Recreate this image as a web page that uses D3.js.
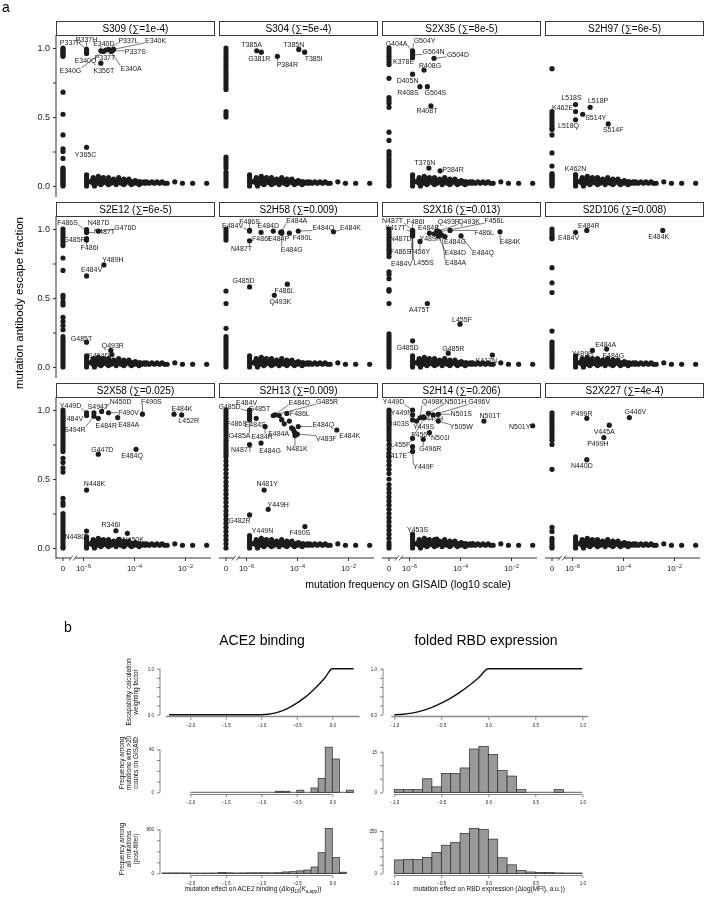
<!DOCTYPE html>
<html>
<head>
<meta charset="utf-8">
<script src="https://cdn.jsdelivr.net/npm/d3@7"></script>
<style>
  body { margin: 0; background: #fff; }
  svg { display: block; font-family: "Liberation Sans", Arial, Helvetica, sans-serif; will-change: transform; }
</style>
</head>
<body>
<svg id="fig" width="704" height="900"></svg>
<script>
// ---------- panel a data ----------
const antibodies = ['S309', 'S304', 'S2X35', 'S2H97', 'S2E12', 'S2H58', 'S2X16', 'S2D106', 'S2X58', 'S2H13', 'S2H14', 'S2X227'];
const sums = ['1e-4', '5e-4', '8e-5', '6e-5', '6e-5', '0.009', '0.013', '0.008', '0.025', '0.009', '0.206', '4e-4'];

// escape fractions of mutations never seen on GISAID (plotted at "0")
const zeroEscape = [
  [1.0,0.99,0.98,0.97,0.96,0.95,0.94,0.68,0.52,0.37,0.27,0.25,0.2,0.13,0.12,0.11,0.1,0.09,0.08,0.07,0.06,0.05,0.04,0.03,0.02,0.01,0.0],
  [1.0,0.98,0.96,0.94,0.92,0.9,0.88,0.86,0.84,0.82,0.8,0.78,0.76,0.74,0.72,0.7,0.54,0.52,0.5,0.21,0.19,0.17,0.15,0.13,0.1,0.08,0.06,0.04,0.02,0.0],
  [1.0,0.98,0.96,0.94,0.92,0.9,0.88,0.78,0.64,0.62,0.6,0.57,0.39,0.33,0.25,0.23,0.21,0.19,0.17,0.15,0.13,0.11,0.09,0.07,0.05,0.03,0.01,0.0],
  [0.85,0.54,0.52,0.5,0.48,0.46,0.44,0.42,0.41,0.37,0.24,0.145,0.09,0.08,0.07,0.06,0.05,0.04,0.03,0.02,0.01,0.0],
  [1.0,0.98,0.96,0.94,0.92,0.9,0.88,0.79,0.7,0.52,0.5,0.47,0.45,0.36,0.33,0.3,0.27,0.22,0.2,0.18,0.16,0.14,0.12,0.1,0.08,0.06,0.04,0.02,0.0],
  [1.0,0.98,0.96,0.94,0.92,0.55,0.46,0.28,0.22,0.2,0.18,0.16,0.14,0.12,0.1,0.08,0.06,0.04,0.02,0.0],
  [1.0,0.98,0.96,0.94,0.92,0.9,0.88,0.86,0.84,0.82,0.8,0.69,0.67,0.64,0.56,0.55,0.46,0.24,0.22,0.2,0.18,0.16,0.14,0.12,0.1,0.08,0.06,0.04,0.02,0.0],
  [1.0,0.98,0.96,0.94,0.93,0.72,0.61,0.54,0.26,0.18,0.16,0.14,0.12,0.1,0.08,0.06,0.04,0.02,0.0],
  [1.0,0.98,0.96,0.94,0.92,0.9,0.88,0.86,0.84,0.82,0.8,0.78,0.76,0.74,0.72,0.7,0.65,0.62,0.58,0.55,0.36,0.33,0.31,0.25,0.23,0.21,0.19,0.17,0.15,0.13,0.11,0.09,0.07,0.05,0.03,0.01,0.0],
  [1.0,0.98,0.96,0.94,0.92,0.9,0.88,0.86,0.84,0.82,0.8,0.78,0.76,0.74,0.72,0.7,0.68,0.66,0.63,0.6,0.57,0.54,0.51,0.48,0.45,0.42,0.39,0.36,0.33,0.3,0.27,0.24,0.21,0.18,0.15,0.12,0.09,0.06,0.03,0.0],
  [1.0,0.98,0.96,0.94,0.92,0.9,0.88,0.86,0.84,0.82,0.8,0.78,0.75,0.72,0.69,0.66,0.63,0.6,0.57,0.54,0.5,0.46,0.43,0.4,0.37,0.34,0.31,0.28,0.25,0.22,0.19,0.16,0.13,0.1,0.07,0.04,0.02,0.0],
  [0.98,0.96,0.94,0.92,0.9,0.88,0.86,0.84,0.82,0.8,0.78,0.75,0.57,0.15,0.12,0.07,0.05,0.03,0.01,0.0]
];

// low-escape mutations seen on GISAID: [log10 frequency, escape fraction]
const background = [
  [-5.86,0.0],[-5.86,0.02],[-5.86,0.04],[-5.86,0.06],[-5.86,0.08],
  [-5.7,0.03],[-5.65,0.04],[-5.6,0.02],[-5.55,0.05],[-5.5,0.03],[-5.45,0.04],[-5.4,0.02],[-5.35,0.03],
  [-5.3,0.05],[-5.25,0.02],[-5.2,0.04],[-5.15,0.03],[-5.1,0.03],[-5.05,0.02],[-5.0,0.04],[-4.95,0.03],
  [-4.9,0.02],[-4.85,0.04],[-4.8,0.03],[-4.75,0.03],[-4.7,0.02],[-4.65,0.04],[-4.6,0.03],[-4.55,0.03],
  [-4.5,0.02],[-4.45,0.04],[-4.4,0.03],[-4.35,0.02],[-4.3,0.03],[-4.25,0.04],[-4.2,0.03],[-4.15,0.02],
  [-4.1,0.03],[-4.05,0.03],[-4.0,0.02],[-3.95,0.04],[-3.9,0.03],[-3.85,0.02],[-3.8,0.03],[-3.75,0.03],
  [-3.7,0.02],[-3.6,0.03],[-3.55,0.02],[-3.5,0.03],[-3.4,0.02],[-3.3,0.03],[-3.2,0.02],[-3.1,0.03],
  [-3.0,0.02],[-2.9,0.03],[-2.8,0.02],[-2.7,0.02],[-2.4,0.03],[-2.1,0.02],[-1.7,0.02],[-1.15,0.02],
  [-5.6,0.06],[-5.4,0.07],[-5.2,0.06],[-5.0,0.06],[-4.8,0.05],[-4.6,0.06],[-4.4,0.05],[-4.2,0.05],
  [-5.55,0.0],[-5.3,0.01],[-5.0,0.01],[-4.7,0.01],[-4.4,0.01],[-4.1,0.01],[-3.8,0.01]
];

// labelled escape mutations: [name, log10 frequency, escape fraction]
const labeled = [
  [['P337R',-5.86,0.99],['P337H',-5.86,0.97],['E340Q',-5.86,0.96],['E340D',-5.3,0.98],['P337L',-5.0,0.99],['E340K',-4.8,0.99],
   ['P337S',-4.85,0.98],['P337T',-5.1,0.985],['E340A',-4.9,0.975],['E340G',-5.2,0.975],['K356T',-5.3,0.89],['Y365C',-5.86,0.28]],
  [['T385A',-5.58,0.98],['G381R',-5.4,0.97],['P384R',-4.77,0.94],['T385N',-3.93,0.99],['T385I',-3.7,0.97]],
  [['G404A',-5.86,0.97],['G504Y',-5.86,0.98],['G504N',-5.86,0.95],['K378E',-5.86,0.93],['G504D',-5.02,0.925],['R408G',-5.41,0.84],
   ['D405N',-5.86,0.81],['R408S',-5.57,0.72],['G504S',-5.28,0.72],['R408T',-5.14,0.58],['T376N',-5.22,0.13],['P384R',-4.78,0.11]],
  [['L518S',-5.86,0.59],['K462E',-5.86,0.54],['L518Q',-5.86,0.48],['L518P',-5.29,0.57],['S514Y',-5.58,0.52],['S514F',-4.58,0.45],['K462N',-5.86,0.08]],
  [['F486S',-5.86,0.985],['N487D',-5.86,0.995],['N487T',-5.86,0.975],['G476D',-5.4,0.985],['G485R',-5.86,0.93],['F486I',-5.86,0.92],
   ['Y489H',-5.18,0.74],['E484V',-5.86,0.66],['G485T',-5.86,0.18],['Q493R',-4.91,0.12],['E484D',-4.87,0.09]],
  [['E484V',-5.86,0.99],['F486S',-5.86,0.985],['F486I',-5.41,0.976],['E484D',-4.93,0.985],['E484P',-4.64,0.976],['E484A',-4.6,0.98],
   ['E484G',-4.6,0.97],['E484Q',-3.95,0.985],['F490L',-4.3,0.97],['E484K',-2.57,0.98],['N487T',-5.86,0.915],['G485D',-5.86,0.58],
   ['F486L',-4.38,0.6],['Q493K',-4.89,0.52]],
  [['N487T',-5.86,0.99],['F486I',-5.86,0.985],['K417T',-5.86,0.975],['E484P',-5.2,0.97],['Q493R',-4.91,0.985],['Q493K',-4.86,0.985],
   ['F456L',-4.81,0.98],['F486L',-4.39,0.99],['E484K',-2.43,0.98],['E484G',-4.59,0.945],['E484Q',-3.96,0.95],['E484D',-4.85,0.95],
   ['E484A',-4.72,0.957],['Y489H',-5.01,0.965],['N487D',-5.86,0.96],['F486S',-5.86,0.955],['F456Y',-5.57,0.91],['E484V',-5.86,0.97],
   ['L455S',-5.86,0.95],['A475T',-5.28,0.46],['L455F',-4.0,0.31],['G485D',-5.86,0.19],['G485R',-4.46,0.1],['K417N',-2.73,0.087]],
  [['E484V',-5.86,0.976],['E484R',-5.42,0.99],['E484K',-2.44,0.99],['E484A',-4.64,0.13],['Y489H',-5.2,0.12],['E484G',-4.38,0.05]],
  [['Y449D',-5.86,0.98],['E484V',-5.86,0.96],['S494R',-5.57,0.955],['S494T',-5.57,0.98],['E484R',-5.4,0.94],['N450D',-5.27,0.99],
   ['F490V',-5.0,0.98],['F490S',-3.67,0.97],['E484A',-4.64,0.945],['E484K',-2.43,0.97],['L452R',-2.13,0.964],['G447D',-5.4,0.68],
   ['E484Q',-3.92,0.715],['N448K',-5.86,0.42],['R346I',-4.71,0.125],['N450K',-4.58,0.063],['N448Q',-5.86,0.123],['',-4.26,0.106]],
  [['E484V',-5.86,1.0],['G485D',-5.86,0.99],['G485T',-5.86,0.97],['E484D',-4.93,0.96],['G485R',-4.86,0.965],['F486L',-4.4,0.975],
   ['F486S',-5.86,0.95],['E484S',-5.6,0.94],['G485A',-5.86,0.93],['E484R',-5.25,0.88],['E484A',-4.21,0.87],['E484Q',-3.95,0.88],
   ['E484K',-2.44,0.855],['V483F',-3.99,0.825],['N481K',-4.08,0.815],['E484G',-5.41,0.76],['N487T',-5.86,0.75],['N481Y',-5.29,0.42],
   ['Y449H',-5.13,0.28],['G482R',-5.86,0.24],['Y449N',-5.86,0.09],['F490S',-3.69,0.155],
   ['',-4.7,0.96],['',-4.6,0.93],['',-4.5,0.9],['',-4.3,0.92],['',-4.15,0.86],['',-4.1,0.84]],
  [['Y449D',-5.86,1.0],['Y449N',-5.86,0.964],['R403S',-5.86,0.928],['L455F',-5.4,0.945],['K417E',-5.86,0.7],['Y449F',-5.86,0.734],
   ['F456Y',-5.86,0.795],['Q498K',-5.57,0.944],['N501H',-5.24,0.976],['G496V',-5.05,0.964],['Y449H',-5.44,0.951],['N501S',-4.85,0.969],
   ['N501T',-3.06,0.92],['N501Y',-1.15,0.886],['Y449S',-5.7,0.92],['Y505W',-4.85,0.92],['N501I',-5.2,0.836],['G496R',-5.44,0.788],
   ['Y453S',-5.86,0.1],['',-4.91,0.065],['',-3.48,0.03]],
  [['P499R',-5.42,0.94],['G446V',-3.75,0.945],['V445A',-4.54,0.89],['P499H',-4.75,0.8],['N440D',-5.42,0.64]]
];

// ---------- panel b data ----------
const ace2Ticks = [-2, -1.5, -1, -0.5, 0];
const rbdTicks = [-1, -0.5, 0, 0.5, 1];
// weighting factor: [effect, weight]
const ace2Weight = [[-2.3,0],[-1.0,0],[-0.9,0.01],[-0.8,0.04],[-0.7,0.09],[-0.6,0.16],[-0.5,0.25],[-0.4,0.36],[-0.3,0.49],[-0.2,0.64],[-0.1,0.81],[0,1],[0.3,1]];
const rbdWeight = [[-1.0,0],[-0.9,0.01],[-0.8,0.04],[-0.7,0.09],[-0.6,0.16],[-0.5,0.25],[-0.4,0.36],[-0.3,0.49],[-0.2,0.64],[-0.1,0.81],[0,1],[1.0,1]];
// histograms: [bin left edge, count], bins 0.1 wide
const ace2Gisaid = [[-0.8,1],[-0.7,1],[-0.5,2],[-0.3,4],[-0.2,13],[-0.1,42],[0.0,31],[0.2,2]];
const rbdGisaid = [[-1.0,1],[-0.9,1],[-0.8,1],[-0.7,5],[-0.6,2],[-0.5,7],[-0.4,7],[-0.3,9],[-0.2,16],[-0.1,17],[0.0,14],[0.1,8],[0.2,6],[0.3,1],[0.7,1]];
const ace2All = [[-2.4,5],[-2.3,6],[-2.2,6],[-2.1,5],[-2.0,3],[-1.9,2],[-1.8,3],[-1.7,4],[-1.6,12],[-1.5,8],[-1.4,4],[-1.3,6],[-1.2,8],
  [-1.1,8],[-1.0,9],[-0.9,7],[-0.8,10],[-0.7,25],[-0.6,30],[-0.5,45],[-0.4,60],[-0.3,115],[-0.2,375],[-0.1,815],[0.0,285],[0.1,20]];
const rbdAll = [[-1.0,79],[-0.9,83],[-0.8,81],[-0.7,94],[-0.6,124],[-0.5,166],[-0.4,182],[-0.3,236],[-0.2,266],[-0.1,260],[0.0,202],
  [0.1,92],[0.2,50],[0.3,16],[0.4,8],[0.5,4],[0.6,4],[0.7,2],[0.8,1],[0.9,1]];

// label placement, px offset of text centre from its point
const labelOffsets = {
  S309: {P337R:[-16,-7],P337H:[0,-13],E340Q:[-1,7],E340D:[3,-7.5],P337L:[20,-9],E340K:[42,-9],P337S:[23,1],P337T:[-1,7],E340A:[20,17],E340G:[-33,19],K356T:[3,7.5],Y365C:[-1,7]},
  S304: {T385A:[-5,-6],G381R:[-2,6],P384R:[10,8],T385N:[-5,-5],T385I:[9,6]},
  S2X35: {G404A:[-16,-9],G504Y:[12,-10],G504N:[21,-3],K378E:[-9,4],G504D:[24,-4],R408G:[6,-5],D405N:[-5,6],R408S:[-12,6],G504S:[8,6],R408T:[-4,5],T376N:[-4,-6],P384R:[13,-1]},
  S2H97: {L518S:[-4,-7],K462E:[-13,-4],L518Q:[-7,6],L518P:[8,-7],S514Y:[13,3],S514F:[5,6],K462N:[0,-6]},
  S2E12: {F486S:[-19,-9],N487D:[12,-7],N487T:[18,-1],G476D:[27,-4],G485R:[-12,1],F486I:[3,8],Y489H:[9,-5],E484V:[5,-6],G485T:[-5,-4],Q493R:[2,-5],E484D:[-13,1]},
  S2H58: {E484V:[-17,-5],F486S:[0,-10],F486I:[0,6],E484D:[-5,-6],E484P:[-2,6],E484A:[15,-11],E484G:[10,16],E484Q:[25,-4],F490L:[13,4],E484K:[17,-4],N487T:[-8,8],G485D:[-6,-6],F486L:[-3,6],Q493K:[6,6]},
  S2X16: {N487T:[-20,-10],F486I:[3,-10],K417T:[-17,-5],E484P:[-1,-6],Q493R:[12,-10],Q493K:[31,-10],F456L:[55,-11],F486L:[34,2],E484K:[10,10],E484G:[10,5],E484Q:[22,17],E484D:[17,17],E484A:[14,28],Y489H:[-4,5],N487D:[-12,4.5],F486S:[-12,16],F456Y:[0,10],E484V:[-11,30],L455S:[11,27],A475T:[-8,6],L455F:[2,-5],G485D:[-5,7],G485R:[5,-5],K417N:[-6,6]},
  S2D106: {E484V:[-7,5],E484R:[2,-5],E484K:[-4,6],E484A:[-1,-5],Y489H:[-10,3],E484G:[0,-5]},
  S2X58: {Y449D:[-16,-7],E484V:[-14,3],S494R:[-19,13],S494T:[4,-6],E484R:[8,7],N450D:[19,-10],F490V:[20,0],F490S:[9,-13],E484A:[11,7],E484K:[8,-6],L452R:[7,6],G447D:[4,-5],E484Q:[-4,6],N448K:[8,-6],R346I:[-5,-6],N450K:[14,0],N448Q:[-11,6]},
  S2H13: {E484V:[-3,-7],G485D:[-20,-5],G485T:[10,-6],E484D:[26,-13],G485R:[52,-13],F486L:[13,0],F486S:[-13,7],E484S:[-1,6],G485A:[-10,16],E484R:[-3,10],E484A:[-13,6],E484Q:[25,-2],E484K:[13,6],V483F:[29,4],N481K:[2,13],E484G:[9,7],N487T:[-8,5],N481Y:[3,-6],Y449H:[10,-5],G482R:[-10,6],Y449N:[13,-5],F490S:[-5,6]},
  S2H14: {Y449D:[-19,-8],Y449N:[-11,-2],R403S:[-14,4],L455F:[-24,27],K417E:[-16,4],Y449F:[11,20],F456Y:[9,-4],Q498K:[13,-16],N501H:[27,-12],G496V:[46,-13],Y449H:[9,2],N501S:[23,-1],N501T:[6,-5],N501Y:[-13,1],Y449S:[7,6],Y505W:[23,6],N501I:[11,5],G496R:[7,9],Y453S:[5,-5]},
  S2X227: {P499R:[-5,-5],G446V:[6,-6],V445A:[-5,6],P499H:[-6,6],N440D:[-5,6]}
};

// ---------- layout ----------
const svg = d3.select('#fig');
const colLeft = [56, 219, 382, 545];
const rowTop = [21, 202, 383];
const panelW = 159, stripH = 14;
const dotR = 2.6, dotFill = '#1c1c1c';

svg.append('text').attr('x', 2).attr('y', 12).style('font-size', '14px').text('a');

antibodies.forEach((ab, i) => drawEscapePanel(ab, i));

svg.append('text')
  .attr('transform', 'translate(23,303) rotate(-90)')
  .attr('text-anchor', 'middle')
  .style('font-size', '11.5px')
  .text('mutation antibody escape fraction');
svg.append('text')
  .attr('x', 408).attr('y', 588)
  .attr('text-anchor', 'middle')
  .style('font-size', '10.5px')
  .text('mutation frequency on GISAID (log10 scale)');

function drawEscapePanel(ab, i) {
  const c = i % 4, r = Math.floor(i / 4);
  const L = colLeft[c], T = rowTop[r];
  const x = d3.scaleLinear().domain([-6, -2]).range([L + 27, L + 129]);
  const y = d3.scaleLinear().domain([0, 1]).range([T + 165, T + 27]);
  const xZero = x(-6) - 20;
  const g = svg.append('g');

  // facet strip
  g.append('rect')
    .attr('x', L + 0.5).attr('y', T + 0.5)
    .attr('width', panelW - 1).attr('height', stripH)
    .attr('fill', '#fff').attr('stroke', '#3a3a3a').attr('stroke-width', 1);
  g.append('text')
    .attr('x', L + panelW / 2).attr('y', T + 11)
    .attr('text-anchor', 'middle')
    .style('font-size', '10px')
    .text(`${ab} (\u2211=${sums[i]})`);

  const dots = g.append('g').attr('fill', dotFill);
  dots.selectAll('.bg').data(background).enter().append('circle')
    .attr('cx', d => x(d[0])).attr('cy', d => y(d[1])).attr('r', dotR);
  dots.selectAll('.zero').data(zeroEscape[i]).enter().append('circle')
    .attr('cx', xZero).attr('cy', d => y(d)).attr('r', dotR);
  dots.selectAll('.lab').data(labeled[i]).enter().append('circle')
    .attr('cx', d => x(d[1])).attr('cy', d => y(d[2])).attr('r', dotR);

  // labels with leader lines
  const offs = labelOffsets[ab] || {};
  const lines = g.append('g').attr('stroke', '#222').attr('stroke-width', 0.6);
  const texts = g.append('g').style('font-size', '7px').attr('fill', '#1a1a1a');
  labeled[i].filter(d => d[0]).forEach(d => {
    const px = x(d[1]), py = y(d[2]);
    const o = offs[d[0]] || [0, -6];
    const t = texts.append('text')
      .attr('x', px + o[0]).attr('y', py + o[1])
      .attr('dy', '0.35em')
      .attr('text-anchor', 'middle')
      .text(d[0]);
    const bb = t.node().getBBox();
    const nx = Math.max(bb.x, Math.min(px, bb.x + bb.width));
    const ny = Math.max(bb.y + 1, Math.min(py, bb.y + bb.height - 1));
    if (Math.hypot(nx - px, ny - py) > 5) {
      lines.append('line').attr('x1', px).attr('y1', py).attr('x2', nx).attr('y2', ny);
    }
  });

  // y axis on first column
  if (c === 0) {
    const ya = g.append('g').attr('transform', `translate(${L},0)`)
      .call(d3.axisLeft(y).tickValues([0, 0.25, 0.5, 0.75, 1]).tickSize(3)
        .tickFormat(v => (v === 0 || v === 0.5 || v === 1) ? d3.format('.1f')(v) : ''));
    ya.select('.domain').remove();
    ya.selectAll('text').style('font-size', '9px').attr('fill', '#222');
    ya.selectAll('line').attr('stroke', '#333');
    g.append('line').attr('x1', L).attr('x2', L).attr('y1', T + stripH).attr('y2', T + 176)
      .attr('stroke', '#333');
  }

  // x axis on bottom row, with a break between 0 and 10^-6
  if (r === 2) {
    const ay = T + 175;
    const xa = g.append('g').attr('transform', `translate(0,${ay})`)
      .call(d3.axisBottom(x).tickValues([-6, -4, -2]).tickSize(3).tickFormat(''));
    xa.select('.domain').remove();
    xa.selectAll('line').attr('stroke', '#333');
    xa.selectAll('.tick').append('text')
      .attr('y', 13).attr('text-anchor', 'middle').attr('fill', '#222')
      .style('font-size', '8px')
      .each(function (v) {
        const t = d3.select(this);
        t.append('tspan').text('10');
        t.append('tspan').attr('dy', -3).style('font-size', '5.5px').text('\u2212' + Math.abs(v));
      });
    g.append('line').attr('x1', xZero).attr('x2', xZero).attr('y1', ay).attr('y2', ay + 3).attr('stroke', '#333');
    g.append('text').attr('x', xZero).attr('y', ay + 13).attr('text-anchor', 'middle')
      .style('font-size', '8px').attr('fill', '#222').text('0');
    const bx = (xZero + x(-6)) / 2;
    g.append('line').attr('x1', L).attr('x2', bx - 2).attr('y1', ay).attr('y2', ay).attr('stroke', '#333');
    g.append('line').attr('x1', bx + 2).attr('x2', L + 155).attr('y1', ay).attr('y2', ay).attr('stroke', '#333');
    [-2, 2].forEach(dx => {
      g.append('line').attr('x1', bx + dx - 2).attr('y1', ay + 2.5).attr('x2', bx + dx + 2).attr('y2', ay - 2.5)
        .attr('stroke', '#333').attr('stroke-width', 0.8);
    });
  }
}

// ---------- panel b ----------
svg.append('text').attr('x', 64).attr('y', 632).style('font-size', '14px').text('b');
svg.append('text').attr('x', 262).attr('y', 645).attr('text-anchor', 'middle').style('font-size', '14px').text('ACE2 binding');
svg.append('text').attr('x', 486).attr('y', 645).attr('text-anchor', 'middle').style('font-size', '14px').text('folded RBD expression');

const ace2X = d3.scaleLinear().domain([-2, 0]).range([190.3, 332.3]);
const rbdX = d3.scaleLinear().domain([-1, 1]).range([394.3, 582.3]);
const ace2AxisX = 160, rbdAxisX = 383;
const topBase = 714.7, topTop = 668.7, topAxisY = 717;
const midAxisY = 794.5, lowAxisY = 875.5;

function yAxisB(scale, ticks, xpos) {
  const last = ticks[ticks.length - 1];
  const a = svg.append('g').attr('transform', `translate(${xpos},0)`)
    .call(d3.axisLeft(scale).tickValues(ticks).tickSize(3)
      .tickFormat(v => (v === ticks[0] || v === last) ? (last === 1 ? d3.format('.1f')(v) : v) : ''));
  a.select('.domain').remove();
  a.selectAll('text').style('font-size', '4.5px').attr('fill', '#222');
  a.selectAll('line').attr('stroke', '#333').attr('stroke-width', 0.6);
  svg.append('line').attr('x1', xpos).attr('x2', xpos)
    .attr('y1', scale(ticks[0])).attr('y2', scale(last))
    .attr('stroke', '#333').attr('stroke-width', 0.6);
}

function xAxisB(scale, ticks, yAxis, drawLine) {
  const a = svg.append('g').attr('transform', `translate(0,${yAxis})`)
    .call(d3.axisBottom(scale).tickValues(ticks).tickSize(2.5).tickFormat(d3.format('.1f')));
  a.select('.domain').remove();
  a.selectAll('text').style('font-size', '4.5px').attr('fill', '#222').attr('dy', '0.9em');
  a.selectAll('line').attr('stroke', '#333').attr('stroke-width', 0.6);
  if (drawLine) {
    svg.append('line').attr('x1', scale(ticks[0])).attr('x2', scale(ticks[ticks.length - 1]))
      .attr('y1', yAxis).attr('y2', yAxis).attr('stroke', '#333').attr('stroke-width', 0.6);
  }
}

function weightPanel(xs, data, ticks, axisX) {
  const ys = d3.scaleLinear().domain([0, 1]).range([topBase, topTop]);
  const [d0, d1] = d3.extent(data, d => d[0]);
  // grey frame line under the curve
  svg.append('line').attr('x1', xs(d0) - 3).attr('x2', xs(d1) + 6)
    .attr('y1', topAxisY - 0.5).attr('y2', topAxisY - 0.5)
    .attr('stroke', '#8a8a8a').attr('stroke-width', 1.6);
  svg.append('path').datum(data)
    .attr('fill', 'none').attr('stroke', '#111').attr('stroke-width', 1.4)
    .attr('d', d3.line().x(d => xs(d[0])).y(d => ys(d[1])).curve(d3.curveMonotoneX));
  yAxisB(ys, [0, 0.2, 0.4, 0.6, 0.8, 1], axisX);
  xAxisB(xs, ticks, topAxisY + 0.3, false);
}

function drawHist(xs, ys, bins, lineFrom, lineTo) {
  svg.append('line').attr('x1', xs(lineFrom)).attr('x2', xs(lineTo))
    .attr('y1', ys(0)).attr('y2', ys(0)).attr('stroke', '#333').attr('stroke-width', 0.8);
  svg.append('g').selectAll('rect').data(bins).enter().append('rect')
    .attr('x', d => xs(d[0]))
    .attr('width', d => xs(d[0] + 0.1) - xs(d[0]))
    .attr('y', d => ys(d[1]))
    .attr('height', d => ys(0) - ys(d[1]))
    .attr('fill', '#999').attr('stroke', '#2a2a2a').attr('stroke-width', 0.7);
}

// weighting factor row
weightPanel(ace2X, ace2Weight, ace2Ticks, ace2AxisX);
weightPanel(rbdX, rbdWeight, rbdTicks, rbdAxisX);

// GISAID >20 counts row
const yAce2G = d3.scaleLinear().domain([0, 40]).range([792.3, 749.3]);
const yRbdG = d3.scaleLinear().domain([0, 15]).range([792.3, 751.7]);
drawHist(ace2X, yAce2G, ace2Gisaid, -2.0, 0.3);
drawHist(rbdX, yRbdG, rbdGisaid, -1.0, 1.0);
yAxisB(yAce2G, [0, 10, 20, 30, 40], ace2AxisX);
yAxisB(yRbdG, [0, 5, 10, 15], rbdAxisX);
xAxisB(ace2X, ace2Ticks, midAxisY, true);
xAxisB(rbdX, rbdTicks, midAxisY, true);

// all mutations row
const yAce2A = d3.scaleLinear().domain([0, 800]).range([873.3, 829.3]);
const yRbdA = d3.scaleLinear().domain([0, 250]).range([873.3, 831]);
drawHist(ace2X, yAce2A, ace2All, -2.4, 0.2);
drawHist(rbdX, yRbdA, rbdAll, -1.0, 1.0);
yAxisB(yAce2A, [0, 200, 400, 600, 800], ace2AxisX);
yAxisB(yRbdA, [0, 50, 100, 150, 200, 250], rbdAxisX);
xAxisB(ace2X, ace2Ticks, lowAxisY, true);
xAxisB(rbdX, rbdTicks, lowAxisY, true);

// row titles of panel b
const rowTitles = [
  {cy: 692, lines: ['Escapability calculation', 'weighting factor']},
  {cy: 763, lines: ['Frequency among', 'mutations with >20', 'counts on GISAID']},
  {cy: 849, lines: ['Frequency among', 'all mutations', '(post-filter)']}
];
rowTitles.forEach(rt => {
  const n = rt.lines.length;
  rt.lines.forEach((ln, k) => {
    const lx = 136 - (n - 1 - k) * 7;
    svg.append('text')
      .attr('transform', `translate(${lx},${rt.cy}) rotate(-90)`)
      .attr('text-anchor', 'middle')
      .attr('dy', '0.35em')
      .style('font-size', '6.5px').attr('fill', '#111')
      .text(ln);
  });
});

// x titles of panel b
const t1 = svg.append('text').attr('x', 253).attr('y', 891).attr('text-anchor', 'middle')
  .style('font-size', '6.5px').attr('fill', '#111');
t1.append('tspan').text('mutation effect on ACE2 binding (');
t1.append('tspan').style('font-style', 'italic').text('\u0394log');
t1.append('tspan').attr('dy', 1.5).style('font-size', '4.5px').text('10');
t1.append('tspan').attr('dy', -1.5).text('(');
t1.append('tspan').style('font-style', 'italic').text('K');
t1.append('tspan').attr('dy', 1.5).style('font-size', '4.5px').text('a,app');
t1.append('tspan').attr('dy', -1.5).text('))');
svg.append('text').attr('x', 489).attr('y', 891).attr('text-anchor', 'middle')
  .style('font-size', '6.5px').attr('fill', '#111')
  .text('mutation effect on RBD expression (\u0394log(MFI), a.u.))');
</script>
</body>
</html>
